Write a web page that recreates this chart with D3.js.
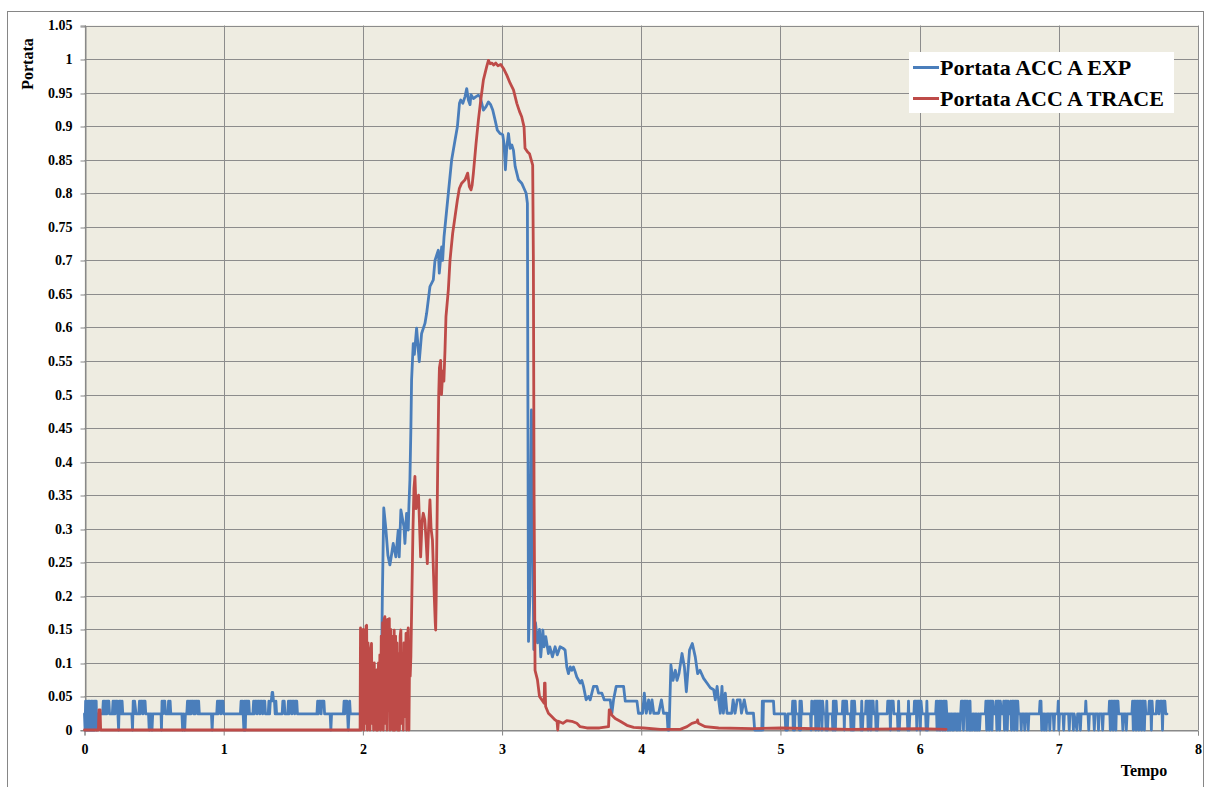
<!DOCTYPE html>
<html><head><meta charset="utf-8">
<script src="https://cdn.jsdelivr.net/npm/d3@7"></script>
<style>
html,body{margin:0;padding:0;background:#fff;}
svg{display:block;}
text{font-family:"Liberation Serif","Times New Roman",serif;font-weight:bold;fill:#000;}
</style></head>
<body><svg id="chart" width="1205" height="787"></svg>
<script>
const seriesNames = ["Portata ACC A EXP", "Portata ACC A TRACE"];
const xTicks = [0,1,2,3,4,5,6,7,8];
const xTickLabels = ["0","1","2","3","4","5","6","7","8"];
const yTicks = [0,0.05,0.1,0.15,0.2,0.25,0.3,0.35,0.4,0.45,0.5,0.55,0.6,0.65,0.7,0.75,0.8,0.85,0.9,0.95,1,1.05];
const yTickLabels = ["0","0.05","0.1","0.15","0.2","0.25","0.3","0.35","0.4","0.45","0.5","0.55","0.6","0.65","0.7","0.75","0.8","0.85","0.9","0.95","1","1.05"];
const xTitle = "Tempo";
const yTitle = "Portata";

// EXP series: [tempo, portata]
const expStart = [[0,0.024],[0.004,0],[0.008,0.043],[0.012,0],[0.016,0.043],[0.02,0.024],[0.024,0],[0.028,0.043],[0.032,0],[0.036,0.043],[0.04,0.024],[0.044,0],[0.048,0.043],[0.052,0],[0.056,0.043],[0.06,0.024],[0.064,0],[0.068,0.043],[0.072,0],[0.076,0.043],[0.08,0.024],[0.084,0.043],[0.088,0],[0.092,0.024],
[0.13,0.024],[0.135,0.043],[0.14,0.024],[0.145,0.043],[0.15,0.024],[0.155,0.043],[0.16,0.024],[0.165,0.043],[0.175,0.043],[0.18,0.024],
[0.2,0.024],[0.205,0.043],[0.21,0.024],[0.215,0.043],[0.22,0.024],[0.225,0.043],[0.235,0.043],[0.24,0.024],[0.245,0],[0.25,0.043],[0.26,0.043],[0.265,0.024],[0.27,0.043],[0.275,0.024],
[0.34,0.024],[0.345,0],[0.35,0.043],[0.355,0.024],[0.36,0.043],[0.37,0.024],
[0.39,0.024],[0.395,0.043],[0.4,0.024],[0.405,0.043],[0.415,0.043],[0.42,0.024],[0.425,0.043],[0.435,0.043],[0.44,0.024],
[0.46,0.024],[0.465,0],[0.47,0.024],[0.48,0.024],[0.485,0],[0.49,0.024],
[0.55,0.024],[0.553,0],[0.557,0.043],[0.562,0.024],[0.567,0.043],[0.577,0.043],[0.582,0.024],
[0.6,0.024],[0.604,0.043],[0.61,0.024],[0.615,0.043],[0.62,0.024],
[0.7,0.024],[0.705,0],[0.71,0.024],[0.72,0],[0.725,0.024],[0.735,0.024],[0.74,0.043],[0.745,0.024],[0.75,0.043],[0.755,0.024],[0.76,0.043],[0.765,0.024],[0.77,0.043],[0.78,0.043],[0.785,0.024],[0.79,0.043],[0.795,0.024],[0.8,0.043],[0.81,0.043],[0.815,0.024],[0.82,0.043],[0.825,0.024],
[0.912,0.024],[0.917,0],[0.922,0.024],
[0.95,0.024],[0.955,0.043],[0.96,0.024],[0.965,0.043],[0.975,0.043],[0.98,0.024],[0.985,0.043],[0.995,0.043],[1.0,0.024],
[1.12,0.024],[1.125,0.043],[1.13,0.024],[1.135,0.043],[1.14,0.024],[1.145,0],[1.15,0.043],[1.155,0],[1.16,0.043],[1.17,0.043],[1.175,0.024],[1.18,0.043],[1.185,0.024],
[1.21,0.024],[1.215,0.043],[1.22,0.024],[1.225,0.043],[1.235,0.043],[1.24,0.024],[1.245,0.043],[1.255,0.043],[1.26,0.024],[1.265,0.043],[1.275,0.043],[1.28,0.024],[1.285,0.043],[1.295,0.043],[1.3,0.024],
[1.32,0.024],[1.325,0.043],[1.33,0.024],[1.335,0.043],[1.342,0.043],[1.348,0.056],[1.352,0.056],[1.358,0.043],[1.365,0.043],[1.37,0.024],[1.375,0.043],[1.38,0.024],
[1.42,0.024],[1.425,0.043],[1.435,0.043],[1.44,0.024],
[1.46,0.024],[1.465,0.043],[1.47,0.024],[1.475,0.043],[1.485,0.043],[1.49,0.024],[1.495,0.043],[1.505,0.043],[1.51,0.024],[1.515,0.043],[1.525,0.043],[1.53,0.024],
[1.67,0.024],[1.675,0.043],[1.68,0.024],[1.685,0.043],[1.695,0.043],[1.7,0.024],[1.705,0.043],[1.72,0.043],[1.725,0.024],
[1.765,0.024],[1.77,0],[1.775,0.024],
[1.86,0.024],[1.865,0.043],[1.87,0.024],[1.875,0.043],[1.885,0.043],[1.89,0.024],[1.895,0],[1.9,0.024],[1.905,0.043],[1.91,0.024]];

const expPeak = [[2.13,0.024],[2.14,0.2],[2.15,0.331],[2.165,0.3],[2.18,0.26],[2.194,0.246],[2.205,0.26],[2.218,0.278],[2.237,0.258],[2.254,0.298],[2.261,0.258],[2.273,0.328],[2.295,0.303],[2.302,0.278],[2.314,0.323],[2.326,0.298],[2.331,0.335],[2.338,0.373],[2.345,0.45],[2.35,0.522],[2.362,0.576],[2.37,0.56],[2.386,0.599],[2.405,0.549],[2.422,0.591],[2.446,0.606],[2.458,0.621],[2.482,0.661],[2.506,0.671],[2.518,0.70],[2.542,0.715],[2.549,0.681],[2.566,0.72],[2.573,0.70],[2.583,0.735],[2.614,0.80],[2.638,0.85],[2.662,0.879],[2.679,0.899],[2.694,0.934],[2.703,0.939],[2.718,0.934],[2.734,0.944],[2.746,0.956],[2.758,0.939],[2.770,0.932],[2.777,0.947],[2.794,0.941],[2.813,0.944],[2.83,0.946],[2.842,0.944],[2.866,0.924],[2.885,0.929],[2.902,0.936],[2.918,0.932],[2.933,0.924],[2.95,0.909],[2.966,0.894],[2.986,0.889],[3.005,0.887],[3.014,0.874],[3.024,0.835],[3.034,0.869],[3.046,0.889],[3.058,0.867],[3.07,0.872],[3.082,0.864],[3.094,0.84],[3.118,0.82],[3.141,0.815],[3.158,0.807],[3.173,0.80],[3.182,0.785],[3.19,0.132],[3.2,0.2],[3.211,0.477],[3.22,0.3],[3.228,0.12],[3.24,0.16],[3.255,0.13],[3.269,0.15],[3.278,0.109],[3.293,0.149],[3.302,0.124],[3.314,0.139],[3.333,0.114],[3.343,0.124],[3.362,0.109],[3.381,0.124],[3.397,0.112],[3.417,0.124],[3.437,0.122],[3.453,0.119],[3.465,0.094],[3.477,0.084],[3.49,0.094],[3.501,0.089],[3.513,0.094],[3.525,0.087],[3.537,0.079],[3.561,0.07],[3.573,0.074],[3.585,0.065],[3.604,0.045],[3.621,0.05],[3.633,0.045],[3.657,0.065],[3.681,0.065],[3.693,0.055],[3.717,0.055],[3.734,0.045],[3.777,0.045],[3.789,0.025],[3.801,0.045],[3.82,0.065],[3.873,0.065],[3.885,0.043],[3.969,0.043],[3.98,0.025],[4.01,0.025],[4.022,0.055],[4.036,0.025],[4.053,0.045],[4.065,0.025],[4.077,0.045],[4.09,0.025],[4.125,0.025],[4.145,0.045],[4.16,0.025],[4.185,0.025],[4.192,0],[4.2,0],[4.213,0.097],[4.228,0.074],[4.245,0.089],[4.257,0.074],[4.271,0.084],[4.293,0.114],[4.31,0.094],[4.324,0.057],[4.347,0.119],[4.367,0.129],[4.388,0.109],[4.405,0.084],[4.422,0.089],[4.448,0.077],[4.472,0.07],[4.496,0.063],[4.52,0.06],[4.532,0.045],[4.545,0.065],[4.556,0.045],[4.568,0.025],[4.58,0.065],[4.59,0.025],[4.604,0.055],[4.616,0.025],[4.65,0.025],[4.66,0.045],[4.674,0.025],[4.69,0.045],[4.71,0.045],[4.72,0.025],[4.74,0.045],[4.758,0.025],[4.806,0.025],[4.815,0],[4.866,0]];

const expTail = [[4.87,0.043],[4.874,0],[4.878,0.043],[4.95,0.043],[4.955,0.024],[5.033,0.024],[5.038,0],[5.05,0],[5.054,0.024],
[5.084,0.024],[5.088,0.043],[5.092,0],[5.097,0.043],[5.102,0],[5.106,0.043],[5.11,0.024],
[5.132,0.024],[5.136,0],[5.14,0.043],[5.145,0],[5.15,0.043],[5.155,0.024],
[5.216,0.024],[5.22,0],[5.225,0.043],[5.23,0.024],[5.24,0.024],[5.244,0.043],[5.25,0.043],[5.254,0],[5.258,0.043],[5.27,0.043],[5.274,0],[5.278,0.043],[5.29,0.043],[5.294,0.024],[5.298,0],[5.303,0.043],[5.31,0.024],
[5.324,0.024],[5.328,0],[5.333,0.043],[5.338,0],[5.343,0.024],
[5.372,0.024],[5.376,0],[5.38,0.043],[5.385,0],[5.39,0.043],[5.395,0],[5.4,0.043],[5.405,0.024],
[5.444,0.024],[5.448,0.043],[5.455,0.043],[5.459,0],[5.463,0.043],[5.475,0.043],[5.48,0.024],
[5.503,0.024],[5.507,0],[5.512,0.043],[5.517,0],[5.522,0.043],[5.527,0],[5.532,0.043],[5.537,0.024],
[5.575,0.024],[5.579,0],[5.584,0.043],[5.589,0],[5.594,0.024],
[5.611,0.024],[5.615,0.043],[5.625,0.043],[5.63,0],[5.635,0.043],[5.645,0.043],[5.65,0],[5.655,0.043],[5.666,0.043],[5.67,0.024],
[5.683,0.024],[5.687,0],[5.692,0.043],[5.697,0],[5.702,0.024],
[5.767,0.024],[5.771,0.043],[5.785,0.043],[5.79,0],[5.795,0.043],[5.81,0.043],[5.815,0.024],
[5.84,0.024],[5.844,0],[5.849,0.043],[5.854,0],[5.859,0.024],
[5.911,0.024],[5.915,0],[5.92,0.043],[5.925,0],[5.93,0.024],
[5.959,0.024],[5.963,0.043],[5.975,0.043],[5.98,0],[5.985,0.043],[6.0,0.043],[6.005,0],[6.01,0.043],[6.018,0.024],
[6.043,0.024],[6.047,0],[6.052,0.043],[6.057,0],[6.062,0.024],
[6.115,0.024],[6.12,0.043],[6.125,0],[6.13,0.043],[6.135,0.024],[6.14,0],[6.145,0.043],[6.15,0],[6.155,0.043],[6.16,0.024],[6.165,0],[6.17,0.043],[6.175,0],[6.18,0.043],[6.185,0],[6.19,0.043],[6.195,0.024],
[6.2,0],[6.205,0.024],[6.21,0],[6.215,0.024],[6.22,0],[6.225,0.024],[6.23,0.024],[6.235,0],[6.24,0.024],[6.245,0],[6.25,0.024],[6.26,0.024],[6.265,0],[6.27,0.024],[6.275,0],[6.28,0.024],[6.29,0],[6.295,0.024],
[6.3,0.043],[6.31,0.043],[6.315,0],[6.32,0.043],[6.335,0.043],[6.34,0],[6.345,0.043],[6.352,0.024],
[6.357,0],[6.362,0.043],[6.367,0],[6.372,0.024],[6.377,0],[6.382,0.024],[6.39,0.024],[6.395,0],[6.4,0.024],[6.405,0],[6.41,0.024],[6.418,0],[6.424,0.024],[6.43,0],[6.436,0.024],
[6.472,0.024],[6.476,0.043],[6.482,0],[6.487,0.043],[6.495,0.043],[6.5,0],[6.505,0.043],[6.515,0.043],[6.52,0],[6.525,0.043],[6.53,0.024],
[6.545,0.024],[6.549,0.043],[6.555,0],[6.56,0.043],[6.57,0.043],[6.575,0],[6.58,0.043],[6.588,0.024],
[6.6,0.024],[6.604,0.043],[6.61,0],[6.615,0.043],[6.625,0.043],[6.63,0],[6.635,0.043],[6.64,0.024],
[6.65,0.024],[6.654,0.043],[6.66,0],[6.665,0.043],[6.675,0.043],[6.68,0],[6.685,0.043],[6.695,0.043],[6.7,0],[6.705,0.043],[6.71,0.024],
[6.725,0.024],[6.73,0],[6.735,0.024],[6.75,0.024],[6.755,0],[6.76,0.024],[6.775,0.024],[6.78,0],[6.785,0.024],
[6.86,0.024],[6.865,0.043],[6.872,0.043],[6.877,0],[6.882,0.024],[6.89,0.024],[6.895,0],[6.9,0.024],[6.91,0],[6.915,0.024],[6.93,0.024],[6.935,0],[6.94,0.024],
[6.96,0.024],[6.965,0],[6.97,0.024],[6.992,0.024],[6.996,0.043],[7.0,0],[7.005,0.024],
[7.03,0.024],[7.035,0],[7.04,0.024],[7.07,0.024],[7.075,0],[7.08,0.024],[7.1,0.024],[7.105,0],[7.11,0.024],[7.13,0],[7.135,0.024],[7.15,0.024],[7.155,0],[7.16,0.024],
[7.19,0.024],[7.194,0.043],[7.198,0.024],[7.21,0.024],[7.215,0],[7.22,0.024],[7.25,0.024],[7.255,0],[7.26,0.024],[7.28,0.024],[7.285,0],[7.29,0.024],[7.31,0.024],[7.315,0],[7.32,0.024],
[7.36,0.024],[7.364,0.043],[7.37,0],[7.375,0.043],[7.385,0.043],[7.39,0],[7.395,0.043],[7.405,0.043],[7.41,0],[7.415,0.043],[7.425,0.043],[7.43,0.024],
[7.455,0.024],[7.46,0],[7.465,0.024],[7.48,0.024],[7.485,0],[7.49,0.024],
[7.525,0.024],[7.53,0.043],[7.535,0],[7.54,0.043],[7.55,0.043],[7.555,0],[7.56,0.043],[7.57,0.043],[7.575,0],[7.58,0.043],[7.59,0.043],[7.595,0],[7.6,0.043],[7.61,0.043],[7.615,0],[7.62,0.043],[7.625,0.024],
[7.645,0.024],[7.65,0.043],[7.66,0.043],[7.665,0],[7.67,0.043],[7.675,0.024],
[7.7,0.024],[7.705,0.043],[7.715,0.043],[7.72,0.024],[7.73,0.043],[7.74,0.043],[7.745,0],[7.75,0.043],[7.762,0.043],[7.768,0.024],[7.777,0.024]];

// TRACE series: [tempo, portata]
const traceStart = [[0,0],[0.1,0],[0.104,0.03],[0.112,0.03],[0.116,0],[1.98,0]];
const traceBurst = [[1.983,0.152],[1.988,0],[1.993,0.14],[1.998,0.02],[2.003,0.15],[2.008,0],[2.013,0.12],[2.018,0.01],[2.023,0.155],[2.027,0.156],[2.032,0],[2.037,0.13],[2.042,0.03],[2.046,0.099],[2.051,0],[2.056,0.12],[2.062,0.129],[2.067,0.01],[2.072,0.08],[2.077,0],[2.082,0.1],[2.087,0.02],[2.092,0.07],[2.097,0],[2.102,0.09],[2.107,0],[2.112,0.1],[2.117,0.01],[2.122,0.112],[2.127,0],[2.132,0.14],[2.137,0.02],[2.142,0.16],[2.147,0],[2.152,0.165],[2.158,0.169],[2.163,0.01],[2.168,0.16],[2.173,0],[2.178,0.165],[2.184,0.03],[2.19,0.166],[2.195,0],[2.2,0.15],[2.205,0.02],[2.21,0.14],[2.215,0],[2.218,0.129],[2.222,0.01],[2.225,0.149],[2.23,0],[2.235,0.14],[2.24,0.02],[2.245,0.13],[2.25,0],[2.258,0.114],[2.263,0],[2.268,0.14],[2.273,0.149],[2.278,0.01],[2.285,0.114],[2.29,0],[2.295,0.13],[2.3,0.02],[2.31,0.144],[2.315,0],[2.32,0.14],[2.326,0.152],[2.331,0],[2.336,0.12]];
const tracePeak = [[2.34,0.08],[2.345,0.11],[2.352,0.2],[2.36,0.3],[2.367,0.36],[2.374,0.378],[2.382,0.33],[2.39,0.343],[2.4,0.35],[2.408,0.3],[2.415,0.258],[2.425,0.31],[2.434,0.323],[2.445,0.313],[2.455,0.28],[2.463,0.248],[2.472,0.3],[2.482,0.343],[2.49,0.3],[2.5,0.283],[2.508,0.23],[2.513,0.199],[2.52,0.16],[2.523,0.149],[2.527,0.2],[2.53,0.258],[2.538,0.4],[2.545,0.5],[2.55,0.54],[2.559,0.551],[2.565,0.5],[2.574,0.535],[2.582,0.52],[2.59,0.566],[2.597,0.616],[2.614,0.656],[2.626,0.70],[2.645,0.74],[2.662,0.765],[2.679,0.79],[2.693,0.807],[2.71,0.815],[2.734,0.82],[2.753,0.83],[2.765,0.81],[2.777,0.805],[2.785,0.812],[2.794,0.83],[2.813,0.874],[2.83,0.909],[2.847,0.939],[2.866,0.969],[2.89,0.989],[2.902,0.998],[2.914,0.993],[2.926,0.994],[2.94,0.991],[2.955,0.994],[2.97,0.99],[2.99,0.992],[3.01,0.986],[3.034,0.976],[3.058,0.964],[3.082,0.954],[3.106,0.934],[3.125,0.922],[3.141,0.914],[3.158,0.899],[3.165,0.867],[3.182,0.862],[3.197,0.859],[3.213,0.847],[3.22,0.842],[3.225,0.7],[3.23,0.35],[3.237,0.089],[3.254,0.075],[3.269,0.05],[3.285,0.045],[3.302,0.04],[3.305,0.07],[3.309,0.07],[3.313,0.035],[3.333,0.025],[3.357,0.02],[3.381,0.015],[3.395,0.013],[3.4,0],[3.405,0.013],[3.437,0.01],[3.465,0.014],[3.501,0.013],[3.537,0.01],[3.561,0.005],[3.609,0.003],[3.7,0.003],[3.765,0.005],[3.77,0.03],[3.775,0.03],[3.789,0.022],[3.813,0.017],[3.849,0.013],[3.897,0.007],[3.945,0.004],[4.017,0.003],[4.137,0.001],[4.28,0.001],[4.329,0.005],[4.364,0.01],[4.4,0.012],[4.405,0.015],[4.41,0.01],[4.46,0.005],[4.556,0.003],[4.8,0.002],[5.0,0.003],[5.5,0.001],[6.0,0.002],[6.19,0.001]];

const colors = ["#4A7EBB", "#BE4B48"];

const expData = expStart.concat(expPeak, expTail);
const traceData = traceStart.concat(traceBurst, tracePeak);

const svg = d3.select("#chart");
const L = 84.5, R = 1198, T = 25.5, B = 730;
const x = d3.scaleLinear().domain([0, 8]).range([L, R]);
const y = d3.scaleLinear().domain([0, 1.05]).range([B, T]);

// outer chart border
svg.append("rect").attr("x", 7.5).attr("y", 11.5).attr("width", 1196).attr("height", 790)
  .attr("fill", "#fff").attr("stroke", "#868686").attr("stroke-width", 1);

// plot background
svg.append("rect").attr("x", L).attr("y", T).attr("width", R - L).attr("height", B - T)
  .attr("fill", "#EEECE1");

// gridlines
const grid = svg.append("g").attr("stroke", "#8c8c8c").attr("stroke-width", 1);
grid.selectAll("line.h").data(yTicks).join("line")
  .attr("x1", L).attr("x2", R)
  .attr("y1", d => Math.round(y(d)) + 0.5).attr("y2", d => Math.round(y(d)) + 0.5);
grid.selectAll("line.v").data(xTicks).join("line")
  .attr("y1", T).attr("y2", B)
  .attr("x1", d => Math.round(x(d)) + 0.5).attr("x2", d => Math.round(x(d)) + 0.5);

// axes
const yAxis = d3.axisLeft(y).tickValues(yTicks).tickSize(5).tickPadding(8)
  .tickFormat((d, i) => yTickLabels[i]);
const gy = svg.append("g").attr("transform", `translate(${Math.round(L) + 0.5},0)`).call(yAxis);
const xAxis = d3.axisBottom(x).tickValues(xTicks).tickSize(5).tickPadding(9)
  .tickFormat((d, i) => xTickLabels[i]);
const gx = svg.append("g").attr("transform", `translate(0,${B + 0.5})`).call(xAxis);
[gx, gy].forEach(g => {
  g.select(".domain").attr("stroke", "#868686");
  g.selectAll(".tick line").attr("stroke", "#868686");
  g.selectAll(".tick text").attr("font-family", "Liberation Serif, Times New Roman, serif")
    .attr("font-weight", "bold").attr("font-size", 14).attr("fill", "#000");
});
gy.selectAll(".tick line").attr("transform", (d) => `translate(0,${Math.round(y(d)) + 0.5 - y(d)})`);

// series lines
const line = d3.line().x(d => x(d[0])).y(d => y(d[1]));
const lines = svg.append("g").attr("fill", "none").attr("stroke-width", 2.8)
  .attr("stroke-linejoin", "round").attr("stroke-linecap", "round");
lines.append("path").datum(expData).attr("stroke", colors[0]).attr("d", line);
lines.append("path").datum(traceData).attr("stroke", colors[1]).attr("d", line);

// axis titles
svg.append("text").attr("transform", "translate(33,64) rotate(-90)")
  .attr("text-anchor", "middle").attr("font-size", 16).text(yTitle);
svg.append("text").attr("x", 1144).attr("y", 776)
  .attr("text-anchor", "middle").attr("font-size", 16).text(xTitle);

// legend
const lg = svg.append("g");
lg.append("rect").attr("x", 909).attr("y", 52).attr("width", 265).attr("height", 61).attr("fill", "#fff");
const ly = [67.5, 98.5];
seriesNames.forEach((name, i) => {
  lg.append("line").attr("x1", 913).attr("x2", 939).attr("y1", ly[i]).attr("y2", ly[i])
    .attr("stroke", colors[i]).attr("stroke-width", 3);
  lg.append("text").attr("x", 940).attr("y", ly[i] + 7).attr("font-size", 22).text(name);
});
</script>
</body></html>
